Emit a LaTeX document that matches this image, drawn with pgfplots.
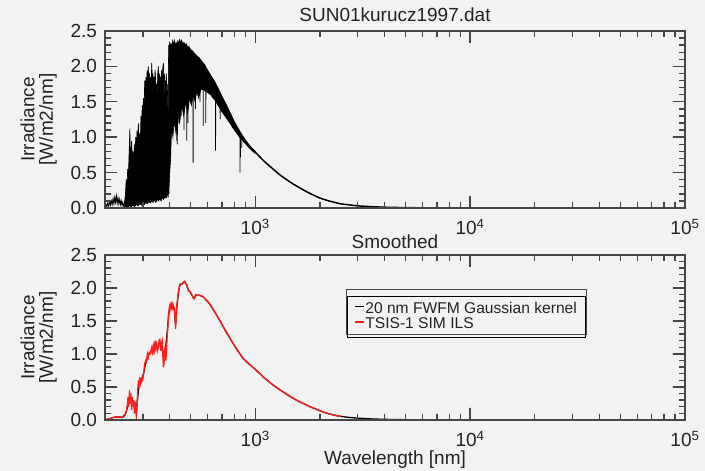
\documentclass[border=0pt]{standalone}
\usepackage{pgfplots}
\pgfplotsset{compat=1.18}
\usepackage{fontspec}
\setmainfont{Liberation Sans}
\definecolor{bg}{RGB}{242,242,242}
\definecolor{axc}{RGB}{70,70,70}
\definecolor{txt}{RGB}{35,35,35}
\definecolor{tsis}{RGB}{255,30,30}
\pgfplotsset{
  every axis/.append style={
    scale only axis, width=580pt,
    xmode=log, xmin=200, xmax=100000, ymin=0, ymax=2.5,
    xtick={1000,10000,100000},
    xticklabels={10\textsuperscript{3},10\textsuperscript{4},10\textsuperscript{5}},
    minor xtick={300,400,500,600,700,800,900,2000,3000,4000,5000,6000,7000,8000,9000,20000,30000,40000,50000,60000,70000,80000,90000},
    ytick={0,0.5,1,1.5,2,2.5},
    minor ytick={0.1,0.2,0.3,0.4,0.6,0.7,0.8,0.9,1.1,1.2,1.3,1.4,1.6,1.7,1.8,1.9,2.1,2.2,2.3,2.4},
    tick align=inside,
    major tick length=12pt, minor tick length=6pt,
    tick style={draw=axc, line width=1.4pt},
    axis line style={draw=axc, line width=1.3pt},
    tick label style={font=\fontsize{19}{22}\selectfont, text=txt},
    y tick label style={xshift=-4.5pt, /pgf/number format/fixed, /pgf/number format/fixed zerofill, /pgf/number format/precision=1, /pgf/number format/assume math mode=true},
    x tick label style={anchor=base, yshift=-26.5pt},
    ylabel={Irradiance\\{[W/m2/nm]}},
    ylabel style={align=center, font=\fontsize{19}{18.5}\selectfont, text=txt, at={(axis description cs:-0.0828,0.5)}, anchor=south, inner sep=0pt},
    title style={font=\fontsize{19}{22}\selectfont, text=txt, anchor=base, inner sep=0pt},
  }
}
\begin{document}
\begin{tikzpicture}
\fill[bg] (0,0) rectangle (705pt,471pt);
% ---------------- top panel ----------------
\begin{axis}[height=177pt, at={(105pt,263pt)}, anchor=south west,
  title={SUN01kurucz1997.dat}, title style={yshift=3pt}]
% low UV noise
\addplot[draw=black, line width=0.9pt] coordinates {
(200,0.0)(202,0.05)(204,0.02)(206,0.07)(208,0.03)(210,0.09)(212,0.04)(214,0.1)(216,0.05)(218,0.13)(220,0.06)(222,0.15)(224,0.08)(226,0.17)(228,0.07)(230,0.14)(232,0.06)(234,0.12)(236,0.05)(238,0.1)(240,0.04)(242,0.08)(244,0.03)(246,0.05)
};
% dense band
\addplot[draw=black, fill=black, line width=0.6pt] coordinates {
(246,0.05)(249,0.2)(251,0.4)(253,0.3)(255,0.55)(257,0.45)(259,0.8)(261,1.12)(262.5,0.7)(264,0.8)(266,0.95)(268,0.7)(270,0.8)(272,0.65)(274,0.9)(276,0.8)(278,1.0)(280,0.85)(282,1.1)(284,0.95)(286,1.2)(288,0.9)(290,1.05)(292,0.95)(294,1.3)(296,1.2)(298,1.45)(300,1.35)(302,1.55)(304,1.4)(306,1.8)(308,1.6)(310,1.85)(312,1.7)(314,1.95)(316,1.8)(318,2.0)(320,1.75)(322,1.9)(324,1.7)(326,1.85)(328,1.75)(330,2.05)(332,1.8)(334,1.9)(336,1.7)(338,1.85)(340,1.75)(342,1.95)(344,1.8)(346,1.7)(348,1.75)(350,1.6)(352,1.9)(354,2.0)(356,1.8)(358,1.9)(360,1.75)(362,1.85)(364,1.7)(366,1.95)(368,1.8)(370,1.9)(372,2.0)(374,2.05)(376,1.8)(378,1.9)(380,1.5)(382,1.8)(384,1.7)(386,1.9)(388,1.6)(390,1.75)(392,1.4)(393.5,1.0)
(394.5,2.0)(396,2.3)(398,2.2)(400,2.35)(403,2.25)(406,2.33)(409,2.2)(412,2.36)(416,2.3)(420,2.37)(424,2.28)(428,2.34)(432,2.3)(436,2.36)(440,2.32)(445,2.38)(450,2.33)(455,2.37)(460,2.31)(466,2.34)(472,2.3)(478,2.32)(485,2.27)(492,2.28)(500,2.24)(510,2.22)(520,2.19)(535,2.15)(550,2.12)(565,2.07)(580,2.03)(600,1.95)(625,1.86)(650,1.78)(675,1.68)(700,1.58)(725,1.49)(750,1.4)(775,1.31)(800,1.22)(850,1.08)(900,0.96)(950,0.87)(1000,0.8)
(1000,0.77)(950,0.83)(900,0.91)(850,0.99)(800,1.1)(750,1.23)(700,1.36)(650,1.52)(620,1.6)(600,1.63)(580,1.66)(560,1.68)(545,1.55)(535,1.65)(525,1.5)(515,1.6)(505,1.45)(495,1.55)(485,1.35)(475,1.5)(465,1.3)(455,1.45)(445,1.2)(437,1.35)(428,1.05)(420,1.25)(414,1.0)(408,1.15)(404,0.7)(400,0.5)(397,0.3)(394,0.25)(390,0.18)(385,0.14)(380,0.16)(375,0.12)(370,0.15)(365,0.1)(360,0.13)(355,0.1)(350,0.12)(345,0.08)(340,0.11)(335,0.08)(330,0.1)(325,0.07)(320,0.09)(315,0.06)(310,0.08)(305,0.05)(300,0.07)(295,0.04)(290,0.06)(285,0.03)(280,0.05)(275,0.02)(270,0.04)(265,0.02)(260,0.03)(255,0.01)(250,0.02)(246,0)
} -- cycle;
% absorption lines
\addplot[draw=black, line width=0.8pt] coordinates {
(392.5,1.2)(393.4,0.15)(394.2,1.0)
(396.3,1.2)(396.8,0.2)(397.3,1.4)
(403.5,1.6)(404,0.9)(404.5,1.7)
(409.7,1.7)(410.2,1.05)(410.7,1.8)
(422.3,1.8)(422.7,1.15)(423.1,1.8)
(430.5,1.8)(431,0.95)(431.5,1.8)
(433.8,1.8)(434.1,0.9)(434.5,1.85)
(438,1.8)(438.4,1.2)(438.8,1.85)
(452,1.85)(452.4,1.3)(452.8,1.85)
(466,1.85)(466.4,1.1)(466.8,1.85)
(479.6,1.9)(480,0.95)(480.4,1.9)
(485.8,1.9)(486.2,1.2)(486.6,1.9)
(513.6,1.9)(514,0.64)(514.4,1.9)
(526.6,1.9)(527,1.4)(527.4,1.9)
(552.6,1.9)(553,1.5)(553.4,1.9)
(572.6,1.85)(573,1.16)(573.4,1.85)
(588.6,1.8)(589,1.2)(589.4,1.8)
(653.5,1.6)(654,0.81)(654.5,1.6)
(686.5,1.5)(687,1.25)(687.5,1.5)
(849.5,1.02)(850,0.5)(850.5,1.02)
(853.7,1.01)(854.2,0.72)(854.7,1.01)
(865.8,1.0)(866.2,0.85)(866.6,1.0)
};
% infrared tail
\addplot[draw=black, line width=1.5pt] coordinates {
(950,0.85)(1000,0.79)(1100,0.66)(1200,0.56)(1300,0.47)(1400,0.40)(1500,0.34)(1600,0.29)(1700,0.245)(1800,0.205)(2000,0.14)(2200,0.1)(2500,0.058)(3000,0.03)(3500,0.018)(4000,0.011)(5000,0.0048)(6000,0.0024)(8000,0.0008)(10000,0.0003)(20000,0.00002)(100000,0)
};
% tick marks (major 12pt, minor 6pt, inside, all four sides)
\addplot[draw=axc, line width=1.4pt] coordinates {
(200,0)
(300,0)(300,0.0847)(300,0)(400,0)(400,0.0847)(400,0)(500,0)(500,0.0847)(500,0)(600,0)(600,0.0847)(600,0)(700,0)(700,0.0847)(700,0)(800,0)(800,0.0847)(800,0)(900,0)(900,0.0847)(900,0)
(1000,0)(1000,0.1695)(1000,0)
(2000,0)(2000,0.0847)(2000,0)(3000,0)(3000,0.0847)(3000,0)(4000,0)(4000,0.0847)(4000,0)(5000,0)(5000,0.0847)(5000,0)(6000,0)(6000,0.0847)(6000,0)(7000,0)(7000,0.0847)(7000,0)(8000,0)(8000,0.0847)(8000,0)(9000,0)(9000,0.0847)(9000,0)
(10000,0)(10000,0.1695)(10000,0)
(20000,0)(20000,0.0847)(20000,0)(30000,0)(30000,0.0847)(30000,0)(40000,0)(40000,0.0847)(40000,0)(50000,0)(50000,0.0847)(50000,0)(60000,0)(60000,0.0847)(60000,0)(70000,0)(70000,0.0847)(70000,0)(80000,0)(80000,0.0847)(80000,0)(90000,0)(90000,0.0847)(90000,0)
(100000,0)
(100000,0.1)(93775,0.1)(100000,0.1)(100000,0.2)(93775,0.2)(100000,0.2)(100000,0.3)(93775,0.3)(100000,0.3)(100000,0.4)(93775,0.4)(100000,0.4)
(100000,0.5)(87920,0.5)(100000,0.5)
(100000,0.6)(93775,0.6)(100000,0.6)(100000,0.7)(93775,0.7)(100000,0.7)(100000,0.8)(93775,0.8)(100000,0.8)(100000,0.9)(93775,0.9)(100000,0.9)
(100000,1.0)(87920,1.0)(100000,1.0)
(100000,1.1)(93775,1.1)(100000,1.1)(100000,1.2)(93775,1.2)(100000,1.2)(100000,1.3)(93775,1.3)(100000,1.3)(100000,1.4)(93775,1.4)(100000,1.4)
(100000,1.5)(87920,1.5)(100000,1.5)
(100000,1.6)(93775,1.6)(100000,1.6)(100000,1.7)(93775,1.7)(100000,1.7)(100000,1.8)(93775,1.8)(100000,1.8)(100000,1.9)(93775,1.9)(100000,1.9)
(100000,2.0)(87920,2.0)(100000,2.0)
(100000,2.1)(93775,2.1)(100000,2.1)(100000,2.2)(93775,2.2)(100000,2.2)(100000,2.3)(93775,2.3)(100000,2.3)(100000,2.4)(93775,2.4)(100000,2.4)
(100000,2.5)
(90000,2.5)(90000,2.4153)(90000,2.5)(80000,2.5)(80000,2.4153)(80000,2.5)(70000,2.5)(70000,2.4153)(70000,2.5)(60000,2.5)(60000,2.4153)(60000,2.5)(50000,2.5)(50000,2.4153)(50000,2.5)(40000,2.5)(40000,2.4153)(40000,2.5)(30000,2.5)(30000,2.4153)(30000,2.5)(20000,2.5)(20000,2.4153)(20000,2.5)
(10000,2.5)(10000,2.3305)(10000,2.5)
(9000,2.5)(9000,2.4153)(9000,2.5)(8000,2.5)(8000,2.4153)(8000,2.5)(7000,2.5)(7000,2.4153)(7000,2.5)(6000,2.5)(6000,2.4153)(6000,2.5)(5000,2.5)(5000,2.4153)(5000,2.5)(4000,2.5)(4000,2.4153)(4000,2.5)(3000,2.5)(3000,2.4153)(3000,2.5)(2000,2.5)(2000,2.4153)(2000,2.5)
(1000,2.5)(1000,2.3305)(1000,2.5)
(900,2.5)(900,2.4153)(900,2.5)(800,2.5)(800,2.4153)(800,2.5)(700,2.5)(700,2.4153)(700,2.5)(600,2.5)(600,2.4153)(600,2.5)(500,2.5)(500,2.4153)(500,2.5)(400,2.5)(400,2.4153)(400,2.5)(300,2.5)(300,2.4153)(300,2.5)
(200,2.5)
(200,2.4)(213.3,2.4)(200,2.4)(200,2.3)(213.3,2.3)(200,2.3)(200,2.2)(213.3,2.2)(200,2.2)(200,2.1)(213.3,2.1)(200,2.1)
(200,2.0)(227.5,2.0)(200,2.0)
(200,1.9)(213.3,1.9)(200,1.9)(200,1.8)(213.3,1.8)(200,1.8)(200,1.7)(213.3,1.7)(200,1.7)(200,1.6)(213.3,1.6)(200,1.6)
(200,1.5)(227.5,1.5)(200,1.5)
(200,1.4)(213.3,1.4)(200,1.4)(200,1.3)(213.3,1.3)(200,1.3)(200,1.2)(213.3,1.2)(200,1.2)(200,1.1)(213.3,1.1)(200,1.1)
(200,1.0)(227.5,1.0)(200,1.0)
(200,0.9)(213.3,0.9)(200,0.9)(200,0.8)(213.3,0.8)(200,0.8)(200,0.7)(213.3,0.7)(200,0.7)(200,0.6)(213.3,0.6)(200,0.6)
(200,0.5)(227.5,0.5)(200,0.5)
(200,0.4)(213.3,0.4)(200,0.4)(200,0.3)(213.3,0.3)(200,0.3)(200,0.2)(213.3,0.2)(200,0.2)(200,0.1)(213.3,0.1)(200,0.1)
(200,0)
};
\end{axis}
% ---------------- bottom panel ----------------
\begin{axis}[height=165pt, at={(105pt,51pt)}, anchor=south west,
  title={Smoothed}, title style={yshift=0.5pt},
  xlabel={Wavelength [nm]},
  xlabel style={font=\fontsize{19}{22}\selectfont, text=txt, at={(axis description cs:0.5,0)}, anchor=base, yshift=-44.5pt, inner sep=0pt},
  legend style={at={(0.417,0.752)}, anchor=north west, fill=none,
    font=\fontsize{15.6}{18}\selectfont, text=txt, inner xsep=7pt, inner ysep=5pt,
    nodes={inner sep=1pt, text depth=0.2em}, row sep=0.5pt},
  legend cell align=left,
]
\addplot[draw=black, line width=1.3pt, legend image code/.code={\draw[draw=black, line width=1.3pt] (0pt,2.5pt) -- (9pt,2.5pt);}] coordinates {
(200,0.0)(210,0.02)(220,0.04)(230,0.045)(240,0.04)(248,0.08)(255,0.2)(260,0.3)(265,0.28)(270,0.25)(275,0.2)(280,0.15)(285,0.4)(290,0.6)(300,0.65)(310,0.88)(320,1.0)(330,1.05)(340,1.12)(350,1.1)(360,1.18)(370,1.05)(376,0.9)(382,1.05)(390,1.35)(396,1.62)(402,1.74)(410,1.72)(420,1.68)(426,1.45)(432,1.72)(440,1.95)(447,2.05)(455,2.06)(460,2.07)(465,2.09)(470,2.1)(475,2.06)(480,2.05)(485,2.0)(490,1.96)(495,1.95)(500,1.93)(505,1.9)(510,1.88)(515,1.85)(520,1.84)(525,1.87)(530,1.9)(540,1.89)(550,1.89)(560,1.88)(570,1.87)(580,1.85)(590,1.82)(600,1.8)(625,1.72)(650,1.63)(675,1.54)(700,1.45)(725,1.36)(750,1.28)(775,1.2)(800,1.13)(825,1.06)(850,1.0)(875,0.94)(900,0.9)(950,0.83)(1000,0.77)(1100,0.64)(1200,0.54)(1300,0.46)(1400,0.39)(1500,0.33)(1600,0.28)(1700,0.24)(1800,0.2)(1900,0.17)(2000,0.14)(2100,0.115)(2200,0.095)(2300,0.078)(2400,0.065)(2500,0.055)(2600,0.047)(2800,0.036)(3000,0.028)(3500,0.016)(4000,0.01)(5000,0.0045)(6000,0.0022)(8000,0.0007)(10000,0.0003)(20000,0.00002)(100000,0)
};
\addlegendentry{20 nm FWFM Gaussian kernel}
\addplot[draw=tsis, line width=1.3pt, legend image code/.code={\draw[draw=tsis, line width=1.3pt] (0pt,2.5pt) -- (9pt,2.5pt);}] coordinates {
(200,0.0)(205,0.01)(210,0.02)(215,0.03)(220,0.04)(225,0.05)(230,0.04)(235,0.05)(240,0.035)(245,0.05)(248,0.08)(251,0.12)(254,0.22)(256,0.35)(258,0.2)(260,0.45)(262,0.25)(264,0.4)(266,0.15)(268,0.35)(270,0.2)(272,0.3)(274,0.1)(276,0.28)(278,0.12)(280,0.05)(282,0.2)(284,0.45)(286,0.6)(288,0.5)(290,0.65)(292,0.55)(294,0.6)(296,0.58)(298,0.65)(300,0.62)(303,0.72)(306,0.85)(309,0.9)(312,0.88)(315,1.0)(318,0.95)(321,1.02)(324,1.0)(327,1.05)(330,1.1)(333,0.98)(336,1.12)(339,1.05)(342,1.2)(345,1.08)(348,1.15)(351,1.05)(354,1.1)(357,1.2)(360,1.22)(363,1.05)(366,1.15)(369,1.2)(372,0.95)(374,0.8)(376,0.85)(378,1.05)(381,1.1)(384,0.9)(387,1.1)(390,1.3)(393,1.45)(396,1.6)(399,1.72)(402,1.75)(405,1.68)(408,1.75)(411,1.7)(414,1.76)(417,1.72)(420,1.7)(423,1.55)(426,1.38)(429,1.6)(432,1.75)(435,1.82)(438,1.9)(441,1.97)(444,2.04)(447,2.06)(450,2.05)(455,2.06)(460,2.07)(465,2.09)(470,2.1)(475,2.06)(480,2.05)(485,2.0)(490,1.96)(495,1.95)(500,1.93)(505,1.9)(510,1.88)(515,1.85)(520,1.84)(525,1.87)(530,1.9)(540,1.89)(550,1.89)(560,1.88)(570,1.87)(580,1.85)(590,1.82)(600,1.8)(625,1.72)(650,1.63)(675,1.54)(700,1.45)(725,1.36)(750,1.28)(775,1.2)(800,1.13)(825,1.06)(850,1.0)(875,0.94)(900,0.9)(950,0.83)(1000,0.77)(1100,0.64)(1200,0.54)(1300,0.46)(1400,0.39)(1500,0.33)(1600,0.28)(1700,0.24)(1800,0.2)(1900,0.17)(2000,0.14)(2100,0.115)(2200,0.095)(2300,0.078)(2400,0.065)(2500,0.055)
};
\addlegendentry{TSIS-1 SIM ILS}
% tick marks (major 12pt, minor 6pt, inside, all four sides)
\addplot[draw=axc, line width=1.4pt, forget plot] coordinates {
(200,0)
(300,0)(300,0.0909)(300,0)(400,0)(400,0.0909)(400,0)(500,0)(500,0.0909)(500,0)(600,0)(600,0.0909)(600,0)(700,0)(700,0.0909)(700,0)(800,0)(800,0.0909)(800,0)(900,0)(900,0.0909)(900,0)
(1000,0)(1000,0.1818)(1000,0)
(2000,0)(2000,0.0909)(2000,0)(3000,0)(3000,0.0909)(3000,0)(4000,0)(4000,0.0909)(4000,0)(5000,0)(5000,0.0909)(5000,0)(6000,0)(6000,0.0909)(6000,0)(7000,0)(7000,0.0909)(7000,0)(8000,0)(8000,0.0909)(8000,0)(9000,0)(9000,0.0909)(9000,0)
(10000,0)(10000,0.1818)(10000,0)
(20000,0)(20000,0.0909)(20000,0)(30000,0)(30000,0.0909)(30000,0)(40000,0)(40000,0.0909)(40000,0)(50000,0)(50000,0.0909)(50000,0)(60000,0)(60000,0.0909)(60000,0)(70000,0)(70000,0.0909)(70000,0)(80000,0)(80000,0.0909)(80000,0)(90000,0)(90000,0.0909)(90000,0)
(100000,0)
(100000,0.1)(93775,0.1)(100000,0.1)(100000,0.2)(93775,0.2)(100000,0.2)(100000,0.3)(93775,0.3)(100000,0.3)(100000,0.4)(93775,0.4)(100000,0.4)
(100000,0.5)(87920,0.5)(100000,0.5)
(100000,0.6)(93775,0.6)(100000,0.6)(100000,0.7)(93775,0.7)(100000,0.7)(100000,0.8)(93775,0.8)(100000,0.8)(100000,0.9)(93775,0.9)(100000,0.9)
(100000,1.0)(87920,1.0)(100000,1.0)
(100000,1.1)(93775,1.1)(100000,1.1)(100000,1.2)(93775,1.2)(100000,1.2)(100000,1.3)(93775,1.3)(100000,1.3)(100000,1.4)(93775,1.4)(100000,1.4)
(100000,1.5)(87920,1.5)(100000,1.5)
(100000,1.6)(93775,1.6)(100000,1.6)(100000,1.7)(93775,1.7)(100000,1.7)(100000,1.8)(93775,1.8)(100000,1.8)(100000,1.9)(93775,1.9)(100000,1.9)
(100000,2.0)(87920,2.0)(100000,2.0)
(100000,2.1)(93775,2.1)(100000,2.1)(100000,2.2)(93775,2.2)(100000,2.2)(100000,2.3)(93775,2.3)(100000,2.3)(100000,2.4)(93775,2.4)(100000,2.4)
(100000,2.5)
(90000,2.5)(90000,2.4091)(90000,2.5)(80000,2.5)(80000,2.4091)(80000,2.5)(70000,2.5)(70000,2.4091)(70000,2.5)(60000,2.5)(60000,2.4091)(60000,2.5)(50000,2.5)(50000,2.4091)(50000,2.5)(40000,2.5)(40000,2.4091)(40000,2.5)(30000,2.5)(30000,2.4091)(30000,2.5)(20000,2.5)(20000,2.4091)(20000,2.5)
(10000,2.5)(10000,2.3182)(10000,2.5)
(9000,2.5)(9000,2.4091)(9000,2.5)(8000,2.5)(8000,2.4091)(8000,2.5)(7000,2.5)(7000,2.4091)(7000,2.5)(6000,2.5)(6000,2.4091)(6000,2.5)(5000,2.5)(5000,2.4091)(5000,2.5)(4000,2.5)(4000,2.4091)(4000,2.5)(3000,2.5)(3000,2.4091)(3000,2.5)(2000,2.5)(2000,2.4091)(2000,2.5)
(1000,2.5)(1000,2.3182)(1000,2.5)
(900,2.5)(900,2.4091)(900,2.5)(800,2.5)(800,2.4091)(800,2.5)(700,2.5)(700,2.4091)(700,2.5)(600,2.5)(600,2.4091)(600,2.5)(500,2.5)(500,2.4091)(500,2.5)(400,2.5)(400,2.4091)(400,2.5)(300,2.5)(300,2.4091)(300,2.5)
(200,2.5)
(200,2.4)(213.3,2.4)(200,2.4)(200,2.3)(213.3,2.3)(200,2.3)(200,2.2)(213.3,2.2)(200,2.2)(200,2.1)(213.3,2.1)(200,2.1)
(200,2.0)(227.5,2.0)(200,2.0)
(200,1.9)(213.3,1.9)(200,1.9)(200,1.8)(213.3,1.8)(200,1.8)(200,1.7)(213.3,1.7)(200,1.7)(200,1.6)(213.3,1.6)(200,1.6)
(200,1.5)(227.5,1.5)(200,1.5)
(200,1.4)(213.3,1.4)(200,1.4)(200,1.3)(213.3,1.3)(200,1.3)(200,1.2)(213.3,1.2)(200,1.2)(200,1.1)(213.3,1.1)(200,1.1)
(200,1.0)(227.5,1.0)(200,1.0)
(200,0.9)(213.3,0.9)(200,0.9)(200,0.8)(213.3,0.8)(200,0.8)(200,0.7)(213.3,0.7)(200,0.7)(200,0.6)(213.3,0.6)(200,0.6)
(200,0.5)(227.5,0.5)(200,0.5)
(200,0.4)(213.3,0.4)(200,0.4)(200,0.3)(213.3,0.3)(200,0.3)(200,0.2)(213.3,0.2)(200,0.2)(200,0.1)(213.3,0.1)(200,0.1)
(200,0)
};
% legend frame and its shadow
\draw[draw=axc, line width=1pt, fill=bg] (axis description cs:0.4172,0.7879) rectangle (axis description cs:0.8293,0.5152);
\draw[draw=black, line width=1.8pt] (axis description cs:0.4276,0.500) -- (axis description cs:0.8293,0.500);
\end{axis}
\end{tikzpicture}
\end{document}
